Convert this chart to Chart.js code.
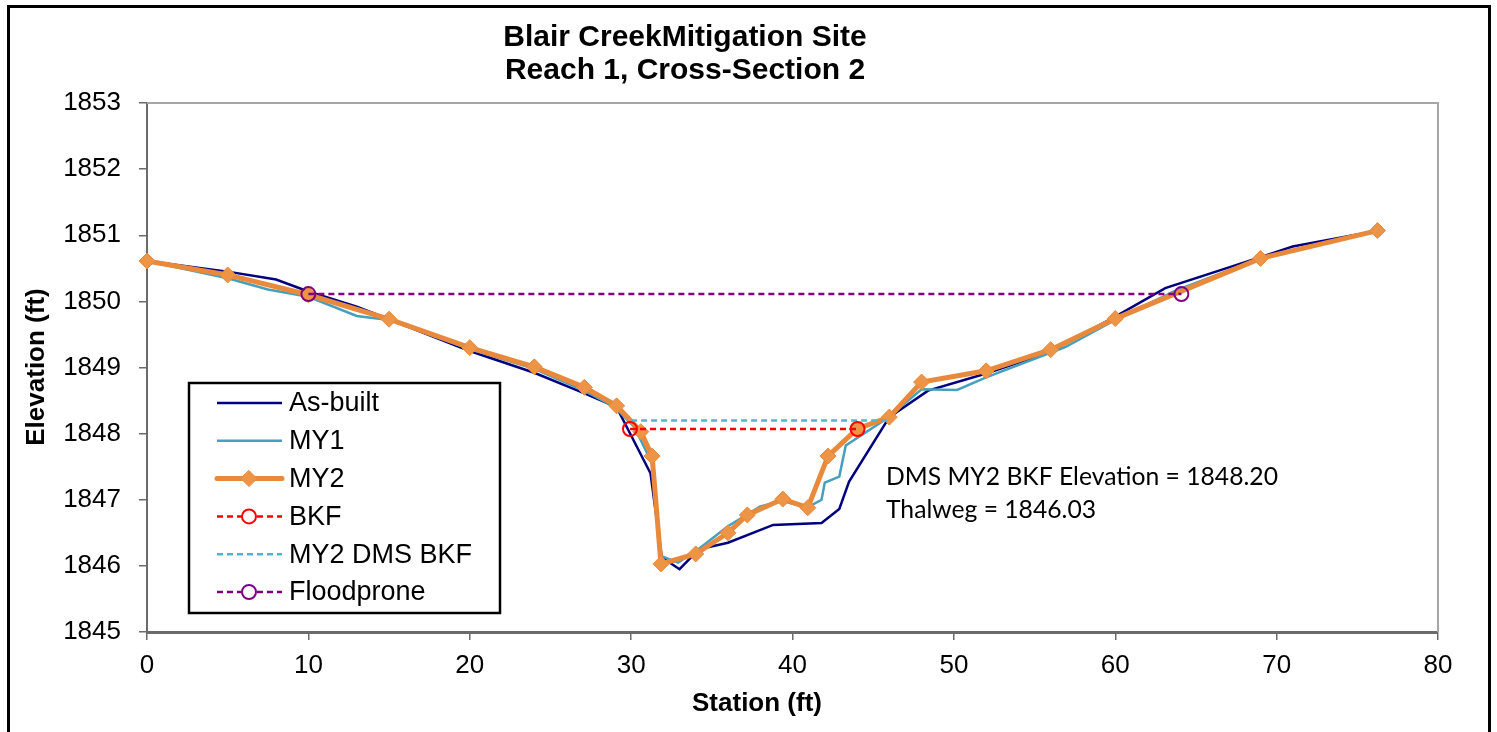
<!DOCTYPE html>
<html>
<head>
<meta charset="utf-8">
<script src="https://cdn.jsdelivr.net/npm/chart.js@4.4.1/dist/chart.umd.min.js"></script>
<style>
  html, body { margin: 0; padding: 0; background: #fff; }
  canvas { display: block; }
</style>
</head>
<body>
<canvas id="chart" width="1497" height="732"></canvas>
<script>
// cross-section survey data (station ft, elevation ft)
const asBuiltSta = [0, 5, 8, 10, 13, 15, 20, 24, 27, 29.1, 31.2, 31.9, 33.0, 34.2, 36.0, 38.8, 41.8, 42.9, 43.5, 46.0, 48.4, 52.0, 56.0, 60.0, 63.1, 69.0, 71.0, 76.25];
const asBuiltElev = [1850.61, 1850.45, 1850.33, 1850.15, 1849.92, 1849.73, 1849.25, 1848.92, 1848.62, 1848.40, 1847.40, 1846.13, 1845.95, 1846.25, 1846.35, 1846.62, 1846.65, 1846.86, 1847.27, 1848.25, 1848.65, 1848.91, 1849.24, 1849.77, 1850.20, 1850.67, 1850.83, 1851.07];

const my1Sta = [0, 5, 7.5, 10, 13, 15, 20, 24, 27, 29, 30.2, 31.3, 31.85, 32.9, 34.0, 36.0, 38.0, 39.4, 40.9, 41.8, 42.0, 42.9, 43.3, 45.8, 48.0, 50.2, 52.0, 56.9, 60.0, 63.8, 69.0, 76.25];
const my1Elev = [1850.61, 1850.35, 1850.18, 1850.07, 1849.78, 1849.72, 1849.28, 1848.98, 1848.66, 1848.40, 1848.10, 1847.55, 1846.15, 1846.05, 1846.22, 1846.60, 1846.90, 1846.98, 1846.88, 1847.00, 1847.26, 1847.35, 1847.82, 1848.22, 1848.67, 1848.66, 1848.85, 1849.31, 1849.72, 1850.17, 1850.65, 1851.07];

const my2Sta = [0, 5.0, 10.0, 15.0, 20.0, 24.0, 27.1, 29.1, 30.6, 31.3, 31.85, 34.0, 36.0, 37.2, 39.4, 40.95, 42.2, 44.0, 46.0, 48.0, 52.0, 56.0, 60.0, 69.0, 76.25];
const my2Elev = [1850.61, 1850.40, 1850.10, 1849.73, 1849.30, 1849.01, 1848.70, 1848.42, 1848.03, 1847.66, 1846.03, 1846.18, 1846.50, 1846.77, 1847.01, 1846.88, 1847.66, 1848.07, 1848.25, 1848.78, 1848.95, 1849.27, 1849.74, 1850.65, 1851.07];

const bkfSta = [29.93, 44.03];
const bkfElev = [1848.07, 1848.07];

const dmsSta = [30.0, 45.9];
const dmsElev = [1848.20, 1848.20];

const floodSta = [10.0, 64.1];
const floodElev = [1850.11, 1850.11];

const xTicks = [0, 10, 20, 30, 40, 50, 60, 70, 80];
const yTicks = [1845, 1846, 1847, 1848, 1849, 1850, 1851, 1852, 1853];

const titleLines = ["Blair CreekMitigation Site", "Reach 1, Cross-Section 2"];
const noteLines = ["DMS MY2 BKF Elevation = 1848.20", "Thalweg = 1846.03"];

function pts(xs, ys) {
  return xs.map((x, i) => ({ x, y: ys[i] }));
}

const ARIAL = "'Liberation Sans', Arial, sans-serif";

const datasets = [
  { label: "As-built", data: pts(asBuiltSta, asBuiltElev), borderColor: "#00007f", borderWidth: 2.5,
    pointRadius: 0, order: 6 },
  { label: "MY1", data: pts(my1Sta, my1Elev), borderColor: "#46a0bd", borderWidth: 2.5,
    pointRadius: 0, order: 5 },
  { label: "MY2", data: pts(my2Sta, my2Elev), borderColor: "#e8893c", borderWidth: 5,
    pointStyle: "rectRot", pointRadius: 8, pointBackgroundColor: "#ee9447", pointBorderColor: "#e8893c",
    pointBorderWidth: 1, order: 4 },
  { label: "BKF", data: pts(bkfSta, bkfElev), borderColor: "#ff0000", borderWidth: 2.5, borderDash: [6, 4],
    pointStyle: "circle", pointRadius: 7, pointBackgroundColor: "rgba(0,0,0,0)", pointBorderColor: "#ff0000",
    pointBorderWidth: 2, order: 1 },
  { label: "MY2 DMS BKF", data: pts(dmsSta, dmsElev), borderColor: "#58b2cf", borderWidth: 2.5, borderDash: [6, 4],
    pointRadius: 0, order: 3 },
  { label: "Floodprone", data: pts(floodSta, floodElev), borderColor: "#800080", borderWidth: 2.5, borderDash: [6, 4],
    pointStyle: "circle", pointRadius: 7, pointBackgroundColor: "rgba(0,0,0,0)", pointBorderColor: "#800080",
    pointBorderWidth: 2, order: 2 },
];
datasets.forEach(d => { d.showLine = true; d.tension = 0; d.clip = false; });

const decor = {
  id: "decor",
  beforeDatasetsDraw(chart) {
    const { ctx, chartArea: a } = chart;
    ctx.save();
    ctx.strokeStyle = "#a6a6a6";
    ctx.lineWidth = 2;
    ctx.beginPath();
    ctx.moveTo(a.left, a.top);
    ctx.lineTo(a.right, a.top);
    ctx.lineTo(a.right, a.bottom);
    ctx.stroke();
    ctx.restore();
  },
  afterDraw(chart) {
    const { ctx } = chart;
    ctx.save();
    // outer frame
    ctx.strokeStyle = "#000";
    ctx.lineWidth = 3;
    ctx.strokeRect(8.5, 6.5, 1481, 760);

    ctx.fillStyle = "#000";
    ctx.textAlign = "center";
    ctx.textBaseline = "middle";
    ctx.font = "bold 30px " + ARIAL;
    ctx.fillText(titleLines[0], 685, 38);
    ctx.fillText(titleLines[1], 685, 71);

    ctx.font = "bold 26px " + ARIAL;
    ctx.fillText("Station (ft)", 757, 704);
    ctx.save();
    ctx.translate(37, 367);
    ctx.rotate(-Math.PI / 2);
    ctx.fillText("Elevation (ft)", 0, 0);
    ctx.restore();

    // note text, sized to the width in the picture
    ctx.font = "26px Lato, 'Open Sans', sans-serif";
    const w = ctx.measureText(noteLines[0]).width;
    const size = 26 * 392 / w;
    ctx.font = size.toFixed(1) + "px Lato, 'Open Sans', sans-serif";
    ctx.textAlign = "left";
    ctx.fillText(noteLines[0], 886, 477);
    ctx.fillText(noteLines[1], 886, 510);

    // legend
    ctx.fillStyle = "#fff";
    ctx.fillRect(189, 383, 311, 230);
    ctx.strokeStyle = "#000";
    ctx.lineWidth = 2.5;
    ctx.strokeRect(189, 383, 311, 230);
    ctx.font = "27px " + ARIAL;
    chart.data.datasets.forEach((d, i) => {
      const y = 403 + i * 37.8;
      ctx.save();
      ctx.strokeStyle = d.borderColor;
      ctx.lineWidth = d.borderWidth;
      ctx.setLineDash(d.borderDash || []);
      ctx.lineCap = d.borderWidth > 3 ? "round" : "butt";
      ctx.beginPath();
      ctx.moveTo(217, y);
      ctx.lineTo(282, y);
      ctx.stroke();
      ctx.setLineDash([]);
      if (d.pointRadius > 0) {
        ctx.lineWidth = d.pointBorderWidth;
        ctx.strokeStyle = d.pointBorderColor;
        ctx.fillStyle = d.pointBackgroundColor;
        ctx.beginPath();
        if (d.pointStyle === "rectRot") {
          const r = d.pointRadius;
          ctx.moveTo(249, y - r); ctx.lineTo(249 + r, y); ctx.lineTo(249, y + r); ctx.lineTo(249 - r, y);
          ctx.closePath();
          ctx.fill();
          ctx.stroke();
        } else {
          ctx.fillStyle = "#fff";
          ctx.arc(249, y, d.pointRadius, 0, Math.PI * 2);
          ctx.fill();
          ctx.stroke();
        }
      }
      ctx.restore();
      ctx.fillStyle = "#000";
      ctx.textAlign = "left";
      ctx.fillText(d.label, 289, y + 1);
    });
    ctx.restore();
  }
};

new Chart(document.getElementById("chart"), {
  type: "scatter",
  data: { datasets },
  options: {
    responsive: false,
    animation: false,
    layout: { padding: { left: 8, right: 59, top: 103, bottom: 0 } },
    plugins: { legend: { display: false }, title: { display: false }, tooltip: { enabled: false } },
    scales: {
      x: {
        type: "linear", min: 0, max: 80,
        afterBuildTicks: s => { s.ticks = xTicks.map(v => ({ value: v })); },
        afterFit: s => { s.height = 100; },
        ticks: { color: "#000", font: { family: ARIAL, size: 26 }, padding: 10, maxRotation: 0,
          callback: v => String(v) },
        grid: { drawOnChartArea: false, tickLength: 8, color: "#6b6b6b", lineWidth: 1.5 },
        border: { color: "#6b6b6b", width: 3 }
      },
      y: {
        type: "linear", min: 1845, max: 1853,
        afterBuildTicks: s => { s.ticks = yTicks.map(v => ({ value: v })); },
        afterFit: s => { s.width = 139; },
        ticks: { color: "#000", font: { family: ARIAL, size: 26 }, padding: 18,
          callback: v => String(v) },
        grid: { drawOnChartArea: false, tickLength: 8, color: "#6b6b6b", lineWidth: 1.5 },
        border: { color: "#6b6b6b", width: 2 }
      }
    }
  },
  plugins: [decor]
});
</script>
</body>
</html>
